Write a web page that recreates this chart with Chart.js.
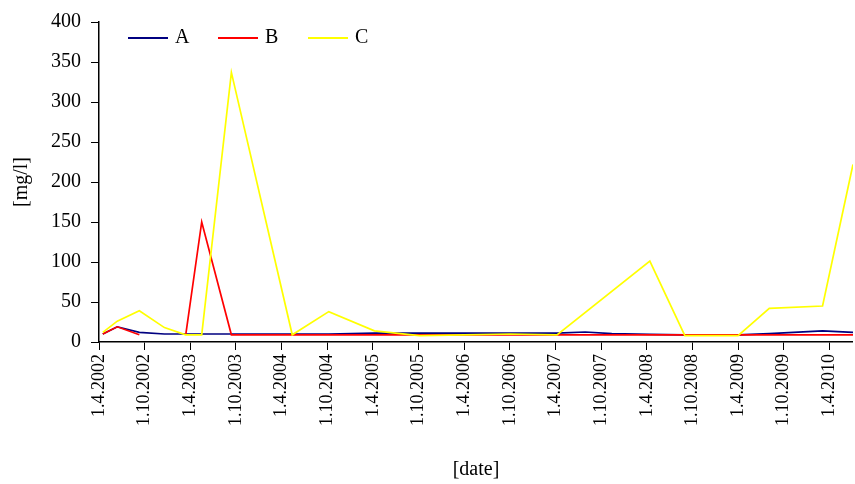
<!DOCTYPE html>
<html>
<head>
<meta charset="utf-8">
<title>Concentrations</title>
<script src="https://cdn.jsdelivr.net/npm/chart.js@4"></script>
<style>
  html, body { margin: 0; padding: 0; background: #fff; }
  #wrap { width: 855px; height: 484px; position: relative; }
</style>
</head>
<body>
<div id="wrap"><canvas id="myChart" width="855" height="484"></canvas></div>
<script>
// Sampling times, in months after 1.4.2002
let months = [0.5, 2.4, 5.3, 8.6, 11.4, 13.5, 17.4, 25.4, 30.2, 36.2, 42.1, 48, 54, 60.2, 63.9, 67.4, 72.4, 77.0, 84.0, 88.1, 95.1, 99.1];

// Series values [mg/l]
let seriesA = [10, 19, 12, 10, 10, 10, 10, 10, 10, 11, 11, 11, 11, 11, 12.5, 10.5, 9.5, 9, 9, 10.5, 14, 12];
let seriesB = [10, 19, 9, null, 9, 150, 9, 9, 9, 9, 9, 9, 9, 9, 9, 9, 9, 9, 9, 9, 9, 9];
let seriesC = [12, 26, 39, 18, 9, 9, 337, 9, 38, 14, 8, 9, 10, 9, null, null, 101, 8, 8, 42, 45, 222];

// Tick labels, one every 6 months
let tickLabels = ["1.4.2002", "1.10.2002", "1.4.2003", "1.10.2003", "1.4.2004", "1.10.2004",
  "1.4.2005", "1.10.2005", "1.4.2006", "1.10.2006", "1.4.2007", "1.10.2007",
  "1.4.2008", "1.10.2008", "1.4.2009", "1.10.2009", "1.4.2010"];

let seriesNames = ["A", "B", "C"];
let seriesColors = ["#000080", "#ff0000", "#ffff00"];

function toPoints(values) {
  return values.map(function (v, i) {
    return { x: months[i], y: v };
  });
}

const family = "'Liberation Serif', 'Times New Roman', serif";
const font = { family: family, size: 20 };
const xFont = { family: family, size: 18 };

// Legend drawn inside the plot area, top left
const innerLegend = {
  id: "innerLegend",
  afterDraw(chart) {
    const ctx = chart.ctx;
    ctx.save();
    ctx.font = font.size + "px " + font.family;
    ctx.textBaseline = "middle";
    ctx.textAlign = "left";
    seriesNames.forEach(function (name, i) {
      let x = 128 + i * 90;
      let y = 38;
      ctx.strokeStyle = seriesColors[i];
      ctx.lineWidth = 2;
      ctx.beginPath();
      ctx.moveTo(x, y);
      ctx.lineTo(x + 40, y);
      ctx.stroke();
      ctx.fillStyle = "#000";
      ctx.fillText(name, x + 47, y);
    });
    ctx.restore();
  }
};

const ctx = document.getElementById("myChart").getContext("2d");
const myChart = new Chart(ctx, {
  type: "line",
  data: {
    datasets: [
      { label: "A", data: toPoints(seriesA), borderColor: seriesColors[0], order: 2, spanGaps: true },
      { label: "B", data: toPoints(seriesB), borderColor: seriesColors[1], order: 1, spanGaps: false },
      { label: "C", data: toPoints(seriesC), borderColor: seriesColors[2], order: 0, spanGaps: true },
    ],
  },
  options: {
    responsive: false,
    animation: false,
    layout: { padding: { top: 14, right: -10, left: 10, bottom: 2 } },
    elements: {
      line: { borderWidth: 1.7, tension: 0, fill: false },
      point: { radius: 0, hoverRadius: 0 },
    },
    plugins: {
      legend: { display: false },
      tooltip: { enabled: false },
    },
    scales: {
      x: {
        type: "linear",
        min: 0,
        max: 99.1,
        afterBuildTicks: function (scale) {
          scale.ticks = tickLabels.map(function (l, i) {
            return { value: i * 6 };
          });
        },
        ticks: {
          color: "#000",
          font: xFont,
          minRotation: 90,
          maxRotation: 90,
          padding: 4,
          callback: function (value) {
            return tickLabels[Math.round(value / 6)];
          },
        },
        grid: { display: true, drawOnChartArea: false, drawTicks: true, tickLength: 8, color: "#000" },
        border: { color: "#000", width: 1.5 },
        title: { display: true, text: "[date]", color: "#000", font: font, padding: { top: 28, bottom: 0 } },
      },
      y: {
        min: 0,
        max: 400,
        ticks: { stepSize: 50, color: "#000", font: font, padding: 10 },
        grid: { display: true, drawOnChartArea: false, drawTicks: true, tickLength: 8, color: "#000" },
        border: { color: "#000", width: 1.5 },
        title: { display: true, text: "[mg/l]", color: "#000", font: font, padding: { top: 0, bottom: 7 } },
      },
    },
  },
  plugins: [innerLegend],
});
</script>
</body>
</html>
